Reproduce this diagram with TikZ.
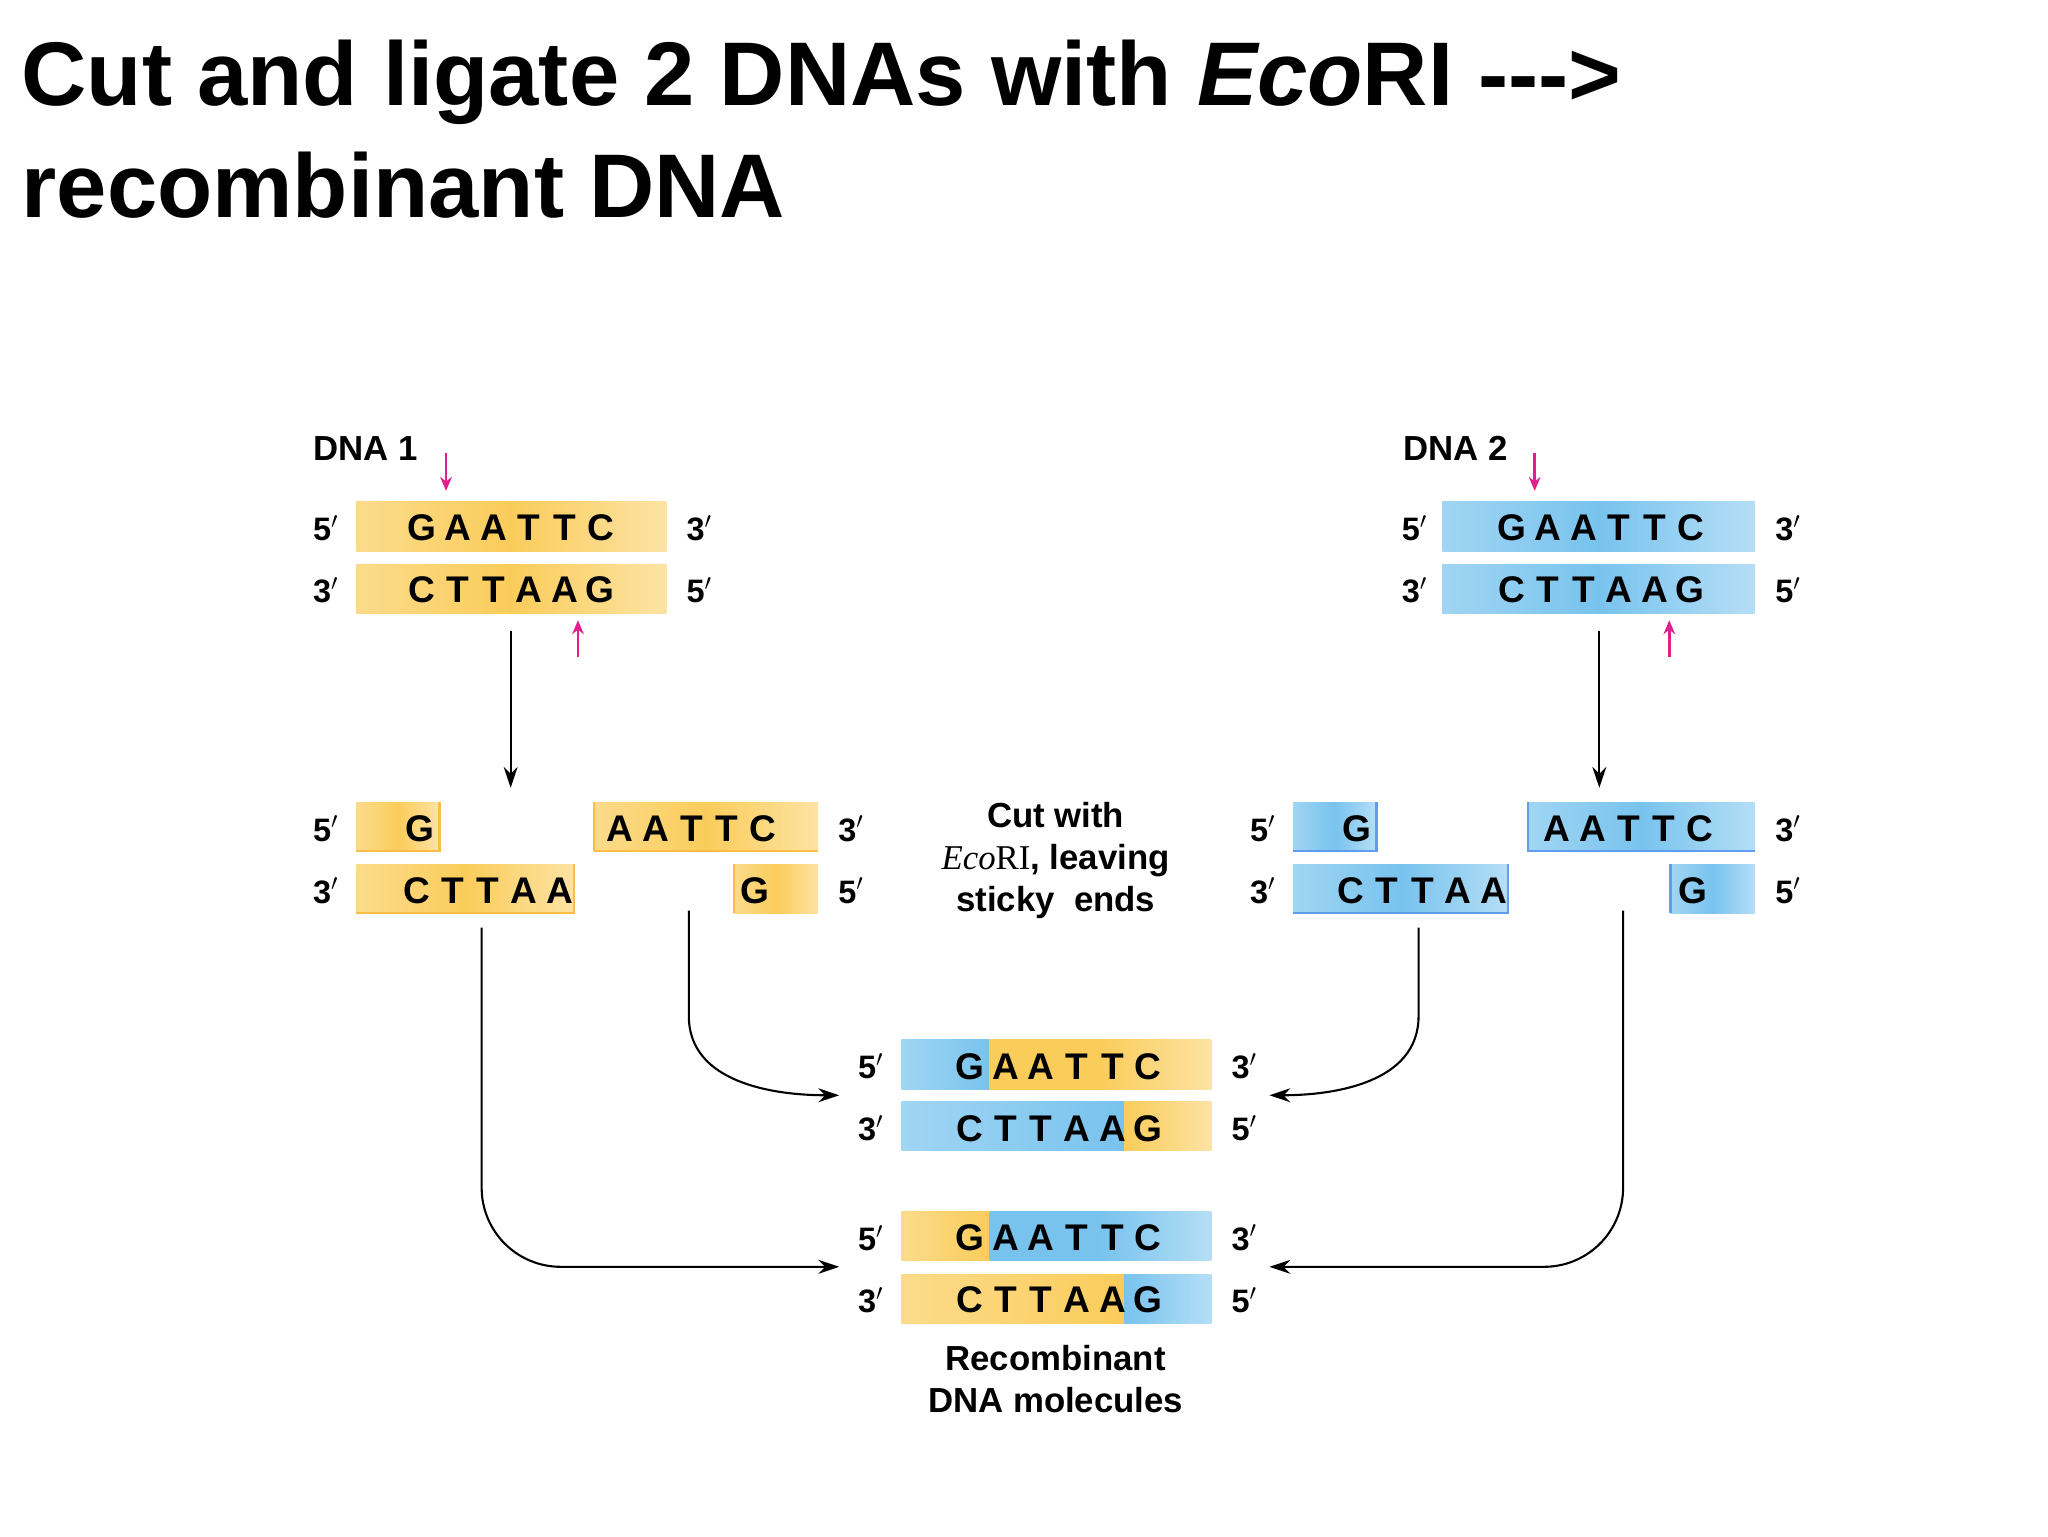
\documentclass[tikz,border=0pt]{standalone}
\usepackage{fontspec}
\setmainfont{Liberation Sans}
\newfontfamily\serfont{Liberation Serif}
\usetikzlibrary{arrows.meta}
\definecolor{yel}{RGB}{250,204,90}
\definecolor{blu}{RGB}{120,195,238}
\definecolor{pnk}{RGB}{225,30,140}
\tikzset{
 lett/.style={font=\fontsize{16}{16}\selectfont\bfseries, inner sep=0pt},
 endl/.style={font=\fontsize{14}{14}\selectfont\bfseries, inner sep=0pt},
 lbl/.style={font=\fontsize{15}{18}\selectfont\bfseries, inner sep=0pt, align=center},
 conn/.style={-{Stealth[length=9pt,width=6pt]}, line width=0.9pt},
 pin/.style={-{Stealth[length=6pt,width=5pt]}, pnk, line width=1.1pt}
}
\newcommand\dbar[5]{\shade[left color=#5!70, right color=#5!55, middle color=#5] (#1,#3) rectangle (#2,#4);}
\newcommand\dbarflat[5]{\fill[#5] (#1,#3) rectangle (#2,#4);}
\newcommand\seqat[4]{\foreach \c [count=\i from 0] in {#4} {\node[lett] (#1\i) at (#2+27*\i,#3) {\c};}}
\begin{document}
\begin{tikzpicture}[x=0.02cm,y=-0.02cm]
\useasboundingbox (0,0) rectangle (1552,1164);
\node[anchor=base west, inner sep=0, font=\fontsize{39}{39}\selectfont\bfseries] (t1) at (16,80) {Cut and ligate 2 DNAs with \textit{Eco}RI {-}{-}{-}>};
\node[anchor=base west, inner sep=0, font=\fontsize{39}{39}\selectfont\bfseries] (t2) at (16,165) {recombinant DNA};

% DNA 1
\node[lbl,anchor=west] (d1) at (237,340) {DNA 1};
\dbar{270}{505}{380}{418}{yel}
\dbar{270}{505}{428}{465}{yel}
\seqat{a}{320}{400}{G,A,A,T,T,C}
\seqat{b}{320}{447}{C,T,T,A,A,G}
\node[endl] at (247,400) {5$'$}; \node[endl] at (530,400) {3$'$};
\node[endl] at (247,447) {3$'$}; \node[endl] at (530,447) {5$'$};
\coordinate (p1a) at (338,343); \coordinate (p1b) at (338,372);
\draw[pin] (p1a) -- (p1b);
\coordinate (p2a) at (438,498); \coordinate (p2b) at (438,470);
\draw[pin] (p2a) -- (p2b);
\coordinate (v1a) at (387,478); \coordinate (v1b) at (387,597);
\draw[conn] (v1a) -- (v1b);

% DNA 2
\node[lbl,anchor=west] (d2) at (1063,340) {DNA 2};
\dbar{1093}{1330}{380}{418}{blu}
\dbar{1093}{1330}{428}{465}{blu}
\seqat{c}{1146}{400}{G,A,A,T,T,C}
\seqat{d}{1146}{447}{C,T,T,A,A,G}
\node[endl] at (1072,400) {5$'$}; \node[endl] at (1355,400) {3$'$};
\node[endl] at (1072,447) {3$'$}; \node[endl] at (1355,447) {5$'$};
\coordinate (p3a) at (1163,343); \coordinate (p3b) at (1163,372);
\draw[pin] (p3a) -- (p3b);
\coordinate (p4a) at (1265,498); \coordinate (p4b) at (1265,470);
\draw[pin] (p4a) -- (p4b);
\coordinate (v2a) at (1212,478); \coordinate (v2b) at (1212,597);
\draw[conn] (v2a) -- (v2b);

% row 2 DNA1
\dbar{270}{333}{608}{645}{yel}
\dbar{270}{435}{655}{692}{yel}
\dbar{450}{620}{608}{645}{yel}
\dbar{556}{620}{655}{692}{yel}
\draw[yel!80!orange,line width=1pt] (270,645)--(333,645)--(333,608) (435,655)--(435,692)--(270,692) (450,645)--(620,645) (556,692)--(556,655) (450,608)--(450,645);
\seqat{e}{318}{628}{G}
\seqat{f}{316}{675}{C,T,T,A,A}
\seqat{g}{470}{628}{A,A,T,T,C}
\seqat{h}{572}{675}{G}
\node[endl] at (247,628) {5$'$}; \node[endl] at (247,675) {3$'$};
\node[endl] at (645,628) {3$'$}; \node[endl] at (645,675) {5$'$};

\node[lbl] (cut) at (800,652) {Cut with\\{\serfont\mdseries\itshape Eco}{\serfont\mdseries RI}, leaving\\sticky\ \ ends};

% row 2 DNA2
\dbar{980}{1043}{608}{645}{blu}
\dbar{980}{1143}{655}{692}{blu}
\dbar{1158}{1330}{608}{645}{blu}
\dbar{1266}{1330}{655}{692}{blu}
\draw[blu!80!blue,line width=1pt] (980,645)--(1043,645)--(1043,608) (1143,655)--(1143,692)--(980,692) (1158,608)--(1158,645)--(1330,645) (1266,692)--(1266,655);
\seqat{i}{1028}{628}{G}
\seqat{j}{1024}{675}{C,T,T,A,A}
\seqat{k}{1180}{628}{A,A,T,T,C}
\seqat{l}{1283}{675}{G}
\node[endl] at (957,628) {5$'$}; \node[endl] at (957,675) {3$'$};
\node[endl] at (1355,628) {3$'$}; \node[endl] at (1355,675) {5$'$};

% recombinant 1
\shade[left color=blu!70, right color=blu] (683,788) rectangle (750,826);
\shade[left color=yel, right color=yel!55, middle color=yel] (750,788) rectangle (918,826);
\shade[left color=blu!70, right color=blu] (683,835) rectangle (852,872);
\shade[left color=yel, right color=yel!55] (852,835) rectangle (918,872);
\seqat{m}{735}{808}{G,A,A,T,T,C}
\seqat{n}{735}{855}{C,T,T,A,A,G}
\node[endl] at (660,808) {5$'$}; \node[endl] at (943,808) {3$'$};
\node[endl] at (660,855) {3$'$}; \node[endl] at (943,855) {5$'$};
% recombinant 2
\shade[left color=yel!70, right color=yel] (683,918) rectangle (750,955);
\shade[left color=blu, right color=blu!55, middle color=blu] (750,918) rectangle (918,955);
\shade[left color=yel!70, right color=yel] (683,966) rectangle (852,1003);
\shade[left color=blu, right color=blu!55] (852,966) rectangle (918,1003);
\seqat{o}{735}{938}{G,A,A,T,T,C}
\seqat{q}{735}{985}{C,T,T,A,A,G}
\node[endl] at (660,938) {5$'$}; \node[endl] at (943,938) {3$'$};
\node[endl] at (660,985) {3$'$}; \node[endl] at (943,985) {5$'$};
\node[lbl] (rec) at (800,1045) {Recombinant\\DNA molecules};

% connectors
\coordinate (c1a) at (522,690); \coordinate (c1b) at (636,830);
\draw[conn] (c1a) -- (522,770) to[out=-90,in=180] (c1b);
\coordinate (c2a) at (1075,703); \coordinate (c2b) at (962,830);
\draw[conn] (c2a) -- (1075,770) to[out=-90,in=0] (c2b);
\coordinate (c3a) at (365,703); \coordinate (c3b) at (636,960);
\draw[conn] (c3a) -- (365,900) to[out=-90,in=180] (425,960) -- (c3b);
\coordinate (c4a) at (1230,690); \coordinate (c4b) at (962,960);
\draw[conn] (c4a) -- (1230,900) to[out=-90,in=0] (1170,960) -- (c4b);
\end{tikzpicture}
\end{document}
